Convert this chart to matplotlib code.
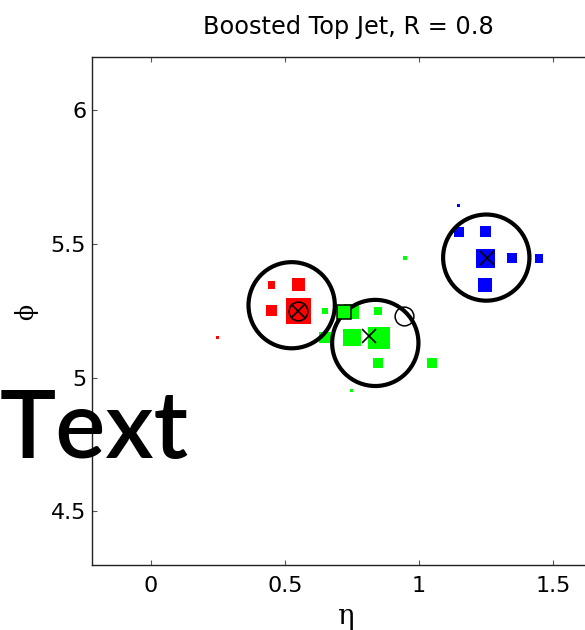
import matplotlib
matplotlib.use("Agg")
import matplotlib.pyplot as plt
from matplotlib.patches import Circle
import numpy as np

# Calorimeter cells (eta, phi, transverse energy) grouped by subjet
red_eta = [0.449, 0.550, 0.449, 0.550, 0.249]
red_phi = [5.347, 5.348, 5.251, 5.250, 5.150]
red_et = [5.6, 17.7, 12.8, 65.0, 1.1]

green_eta = [0.649, 0.749, 0.848, 0.949, 0.649, 0.750, 0.850, 0.848, 1.050, 0.749]
green_phi = [5.249, 5.249, 5.249, 5.448, 5.151, 5.150, 5.149, 5.054, 5.054, 4.952]
green_et = [2.8, 22.5, 6.4, 1.6, 13.2, 29.9, 49.7, 10.0, 10.0, 0.6]

blue_eta = [1.148, 1.149, 1.249, 1.249, 1.348, 1.449, 1.248]
blue_phi = [5.644, 5.544, 5.545, 5.445, 5.446, 5.446, 5.348]
blue_et = [0.7, 10.0, 12.1, 36.1, 10.0, 6.9, 19.6]

# Subjet centres and radius
subjet_eta = [0.525, 0.837, 1.251]
subjet_phi = [5.271, 5.130, 5.449]
subjet_r = 0.161

# Parton / axis markers
cross_eta = [0.549, 0.813, 1.255]
cross_phi = [5.251, 5.157, 5.447]
ring_eta = [0.549, 0.944]
ring_phi = [5.251, 5.231]
box_eta = [0.720]
box_phi = [5.246]

x_ticks = [0, 0.5, 1, 1.5]
x_ticklabels = ["0", "0.5", "1", "1.5"]
y_ticks = [4.5, 5, 5.5, 6]
y_ticklabels = ["4.5", "5", "5.5", "6"]

fig = plt.figure(figsize=(5.85, 6.3), dpi=100)
ax = fig.add_axes([0.1581, 0.1032, 0.8752, 0.8068])
ax.set_xlim(-0.218, 1.692)
ax.set_ylim(4.3, 6.2)

size_scale = 0.72 ** 2 * 10
for eta, phi, et, col in [(red_eta, red_phi, red_et, "#ff0000"),
                          (green_eta, green_phi, green_et, "#00ff00"),
                          (blue_eta, blue_phi, blue_et, "#0000ff")]:
    ax.scatter(eta, phi, s=np.array(et) * size_scale, marker="s", c=col,
               linewidths=0, zorder=2)

for e, p in zip(subjet_eta, subjet_phi):
    ax.add_patch(Circle((e, p), subjet_r, fill=False, ec="black", lw=3, zorder=3))

ax.plot(box_eta, box_phi, ls="none", marker="s", ms=10, mfc="#00ff00",
        mec="black", mew=1.1, zorder=4)
ax.plot(ring_eta, ring_phi, ls="none", marker="o", ms=13.5, mfc="none",
        mec="black", mew=1.1, zorder=4)
ax.plot(cross_eta, cross_phi, ls="none", marker="x", ms=9.5,
        mec="black", mew=1.2, zorder=4)

ax.set_xticks(x_ticks)
ax.set_xticklabels(x_ticklabels)
ax.set_yticks(y_ticks)
ax.set_yticklabels(y_ticklabels)
ax.tick_params(direction="in", length=3.5, width=0.8, color="#555555",
               labelsize=16, top=True, right=False)
ax.tick_params(axis="x", pad=8)
ax.tick_params(axis="y", pad=4.5)
for lab in ax.get_xticklabels() + ax.get_yticklabels():
    lab.set_fontfamily("DejaVu Sans")
for side in ["left", "bottom", "top"]:
    ax.spines[side].set_linewidth(1.0)
    ax.spines[side].set_color("#222222")
ax.spines["right"].set_visible(False)

ax.set_title("Boosted Top Jet, R = 0.8", fontsize=17.3, family="DejaVu Sans", pad=16)

fig.text(345 / 585, 1 - 617 / 630, "\u03b7", fontsize=20, family="DejaVu Serif",
         ha="center", va="center")
fig.text(26.5 / 585, 1 - 312.5 / 630, "\u03d5", fontsize=17, family="DejaVu Serif",
         ha="center", va="center", rotation=90)

fig.text(0.0, 1 - 458 / 630, "Text", fontsize=68, family="Lato", weight="semibold",
         ha="left", va="baseline", color="black")

fig.savefig("out.png", dpi=100)
